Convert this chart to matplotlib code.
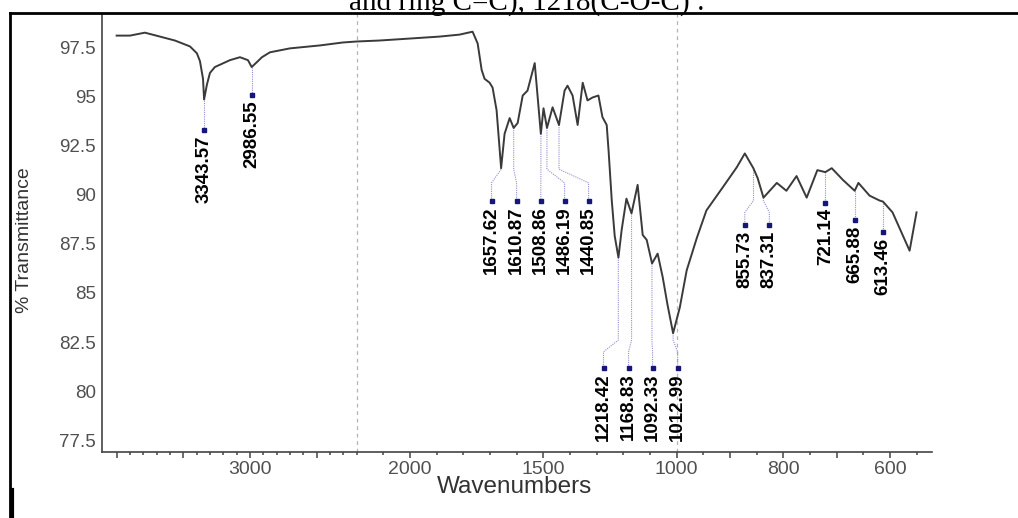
import numpy as np
import matplotlib
matplotlib.use('Agg')
import matplotlib.pyplot as plt
from matplotlib.lines import Line2D
from matplotlib.ticker import FixedLocator, FixedFormatter

# FTIR spectrum (wavenumber cm-1, % transmittance)
wavenumber = [4000, 3900, 3788, 3675, 3563, 3450, 3398, 3375, 3352, 3344, 3323,
              3300, 3263, 3150, 3075, 3015, 2987, 2948, 2910, 2850, 2700, 2475,
              2303, 2200, 2114, 2001, 1889, 1814, 1765, 1746, 1731, 1720, 1701,
              1690, 1675, 1658, 1645, 1626, 1611, 1596, 1577, 1559, 1532, 1509,
              1499, 1486, 1465, 1441, 1420, 1409, 1390, 1371, 1352, 1334, 1315,
              1293, 1278, 1262, 1255, 1243, 1232, 1218, 1206, 1188, 1169, 1146,
              1127, 1112, 1092, 1071, 1052, 1034, 1013, 994, 981, 962, 944, 914,
              887, 872, 856, 848, 837, 812, 794, 775, 756, 736, 721, 709, 688,
              666, 659, 638, 619, 613, 595, 563, 550]
transmittance = [98.1, 98.1, 98.25, 98.05, 97.85, 97.55, 97.2, 96.8, 95.9, 94.85, 95.6,
                 96.2, 96.5, 96.85, 97.0, 96.85, 96.5, 96.75, 97.0, 97.25, 97.45, 97.6,
                 97.75, 97.8, 97.85, 97.95, 98.05, 98.15, 98.3, 97.7, 96.35, 95.9, 95.7,
                 95.45, 94.3, 91.35, 93.1, 93.9, 93.4, 93.65, 95.05, 95.3, 96.7, 93.1,
                 94.4, 93.4, 94.45, 93.55, 95.3, 95.55, 95.05, 93.55, 95.7, 94.8, 94.95,
                 95.05, 93.95, 93.55, 92.25, 89.7, 87.9, 86.8, 88.2, 89.8, 89.05, 90.5,
                 87.95, 87.7, 86.5, 87.0, 85.8, 84.4, 82.95, 84.25, 86.15, 87.8, 89.2, 90.35,
                 91.4, 92.1, 91.35, 90.85, 89.85, 90.6, 90.2, 90.95, 89.85, 91.25, 91.15, 91.35, 90.75,
                 90.2, 90.6, 89.95, 89.7, 89.65, 89.1, 87.15, 89.1]

# labelled peaks and the transmittance where each leader starts
peaks = [3343.57, 2986.55, 1657.62, 1610.87, 1508.86, 1486.19, 1440.85,
         1218.42, 1168.83, 1092.33, 1012.99, 855.73, 837.31, 721.14, 665.88, 613.46]
peak_t = [94.9, 96.5, 91.4, 93.4, 93.1, 93.4, 93.55,
          86.8, 89.05, 86.5, 82.95, 91.35, 89.85, 91.15, 90.2, 89.7]

# where the labels sit (x of the stack, y of the marker, knee of the leader)
label_x = [3343.57, 2986.55, 1694, 1600, 1509, 1420, 1330,
           1274, 1180, 1090, 998, 872, 826, 721.14, 665.88, 613.46]
marker_y = [93.28, 95.06, 89.7, 89.7, 89.7, 89.7, 89.7,
            81.2, 81.2, 81.2, 81.2, 88.45, 88.45, 89.6, 88.7, 88.1]
knees = [None, None] + [(91.3, 90.6)] * 5 + [(82.6, 82.0)] * 4 + [(89.7, 89.1)] * 2 + [None] * 3

y_ticks = [77.5, 80, 82.5, 85, 87.5, 90, 92.5, 95, 97.5]
x_major = [4000, 3500, 3000, 2500, 2000, 1500, 1000, 900, 800, 700, 600]
x_labels = ['', '', '3000', '', '2000', '1500', '1000', '', '800', '', '600']


def forward(w):
    # three linear pieces, compressed above 2200 and stretched below 1000
    w = np.asarray(w, dtype=float)
    return np.where(w >= 2200, w - 2200,
                    np.where(w >= 1000, 2 * (w - 2200), -2400 + 4 * (w - 1000)))


def inverse(u):
    u = np.asarray(u, dtype=float)
    return np.where(u >= 0, u + 2200,
                    np.where(u >= -2400, 2200 + u / 2, 1000 + (u + 2400) / 4))


W, H = 1018, 518
fig = plt.figure(figsize=(W / 100, H / 100), dpi=100)
ax = fig.add_axes([101.7 / W, 1 - 452 / H, 830.3 / W, 438 / H])

ax.set_xscale('function', functions=(forward, inverse))
ax.set_xlim(4112, 521)
ax.set_ylim(76.9, 99.2)

ax.plot(wavenumber, transmittance, color='#3a3a3a', lw=1.4, zorder=3)

for xv in (2200, 1000):
    ax.axvline(xv, color='#b4b4b4', lw=0.9, ls=(0, (3, 3)), zorder=1)

for pk, pt, lx, my, kn in zip(peaks, peak_t, label_x, marker_y, knees):
    if kn is None:
        xs, ys = [pk, lx], [pt, my]
    else:
        xs, ys = [pk, pk, lx, lx], [pt, kn[0], kn[1], my]
    ax.plot(xs, ys, color='#9090d0', lw=0.8, ls=(0, (1, 1)), zorder=2)
    ax.plot(lx, my, 's', color='#15157a', ms=3, zorder=4)
    ax.annotate(f'{pk:.2f}', xy=(lx, my), xytext=(0, -4), textcoords='offset points',
                rotation=90, ha='center', va='top', fontsize=13.5, fontweight='bold',
                family='Liberation Sans', color='black')

ax.xaxis.set_major_locator(FixedLocator(x_major))
ax.xaxis.set_major_formatter(FixedFormatter(x_labels))
minor = [w for w in list(range(4000, 1000, -100)) + list(range(1000, 520, -50)) if w not in x_major]
ax.xaxis.set_minor_locator(FixedLocator(minor))
ax.tick_params(axis='x', which='major', length=4.5, width=1.1, pad=2, color='#444444',
               labelsize=14, labelcolor='#505050')
ax.tick_params(axis='x', which='minor', length=2, width=1.1, color='#444444')

ax.set_yticks(y_ticks)
ax.set_yticklabels([f'{v:g}' for v in y_ticks])
ax.tick_params(axis='y', length=0, pad=4, labelsize=13.5, labelcolor='#505050')
for lab in ax.get_xticklabels() + ax.get_yticklabels():
    lab.set_family('Liberation Sans')

for side in ('top', 'right'):
    ax.spines[side].set_visible(False)
for side in ('left', 'bottom'):
    ax.spines[side].set_color('#444444')
    ax.spines[side].set_linewidth(1.2)

fig.text(25 / W, 1 - 240 / H, '% Transmittance', rotation=90, ha='center', va='center',
         fontsize=14, color='#333333', family='Liberation Sans')
fig.text(515 / W, 1 - 487 / H, 'Wavenumbers', ha='center', va='center',
         fontsize=17.5, color='#333333', family='Liberation Sans')

# bits of the page the chart was cut from
fig.text(527 / W, 1 - 10 / H, 'and ring C=C), 1218(C-O-C) :', ha='center', va='baseline',
         fontsize=21, family='Liberation Serif', color='black')
fig.add_artist(Line2D([10 / W, 1], [1 - 13 / H, 1 - 13 / H], transform=fig.transFigure,
                      color='black', lw=2))
fig.add_artist(Line2D([10 / W, 10 / W], [0, 1 - 13 / H], transform=fig.transFigure,
                      color='black', lw=2))
fig.add_artist(Line2D([12 / W, 12 / W], [0, 28 / H], transform=fig.transFigure,
                      color='black', lw=3))

fig.savefig('out.png', dpi=100)
